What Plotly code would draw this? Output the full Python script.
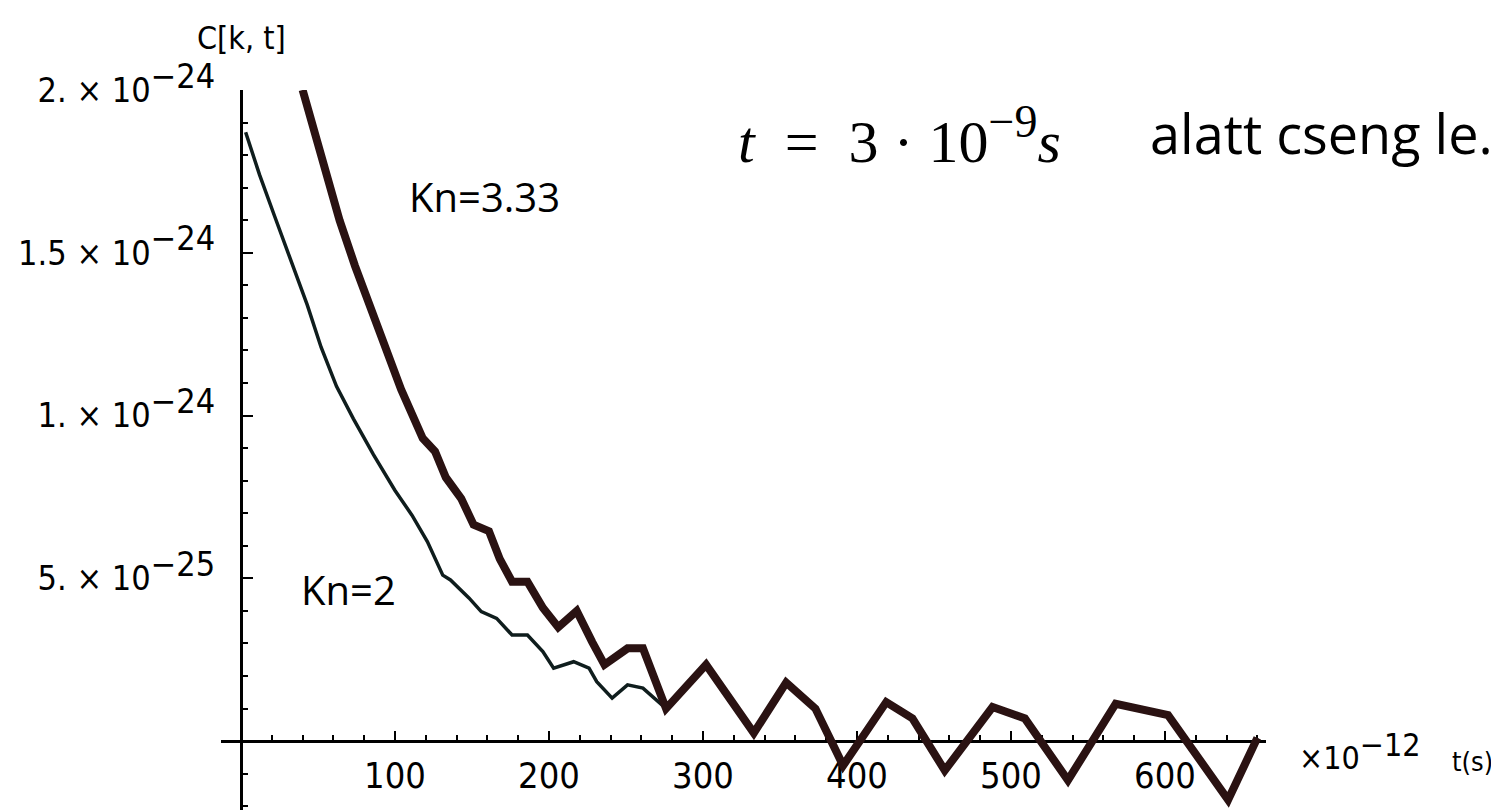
import plotly.graph_objects as go

# ---- data (C[k,t] in units of 1e-24, t in units of 1e-12 s) ----
t_kn333 = [40, 52, 64, 74, 84, 94, 104, 118, 126, 133, 143, 151, 161, 168, 176, 186,
           196, 206, 218, 228, 236, 251, 261, 276, 302, 333, 354, 373, 391, 419, 436,
           457, 488, 509, 537, 568, 602, 641, 660]
c_kn333 = [2.0, 1.79, 1.60, 1.46, 1.33, 1.20, 1.08, 0.93, 0.89, 0.81, 0.745, 0.665,
           0.645, 0.56, 0.49, 0.49, 0.41, 0.35, 0.40, 0.305, 0.235, 0.285, 0.285, 0.10,
           0.235, 0.025, 0.18, 0.10, -0.075, 0.12, 0.07, -0.09, 0.105, 0.07, -0.12,
           0.115, 0.08, -0.18, 0.01]

t_kn2 = [3, 12, 22, 32, 43, 52, 62, 73, 86, 100, 111, 121, 131, 136, 148, 156, 166,
         176, 186, 196, 203, 216, 226, 231, 241, 251, 261, 276, 302, 333, 354, 373,
         391, 419, 436, 457, 488, 509, 537, 568, 602, 641, 660]
c_kn2 = [1.87, 1.74, 1.61, 1.48, 1.34, 1.21, 1.09, 0.99, 0.88, 0.77, 0.694, 0.613,
         0.51, 0.495, 0.44, 0.398, 0.377, 0.326, 0.326, 0.275, 0.224, 0.244, 0.224,
         0.183, 0.132, 0.173, 0.163, 0.10, 0.235, 0.025, 0.18, 0.10, -0.075, 0.12,
         0.07, -0.09, 0.105, 0.07, -0.12, 0.115, 0.08, -0.18, 0.01]

x_tick_vals = [100, 200, 300, 400, 500, 600]
x_tick_text = ["100", "200", "300", "400", "500", "600"]
y_tick_vals = [0.5, 1.0, 1.5, 2.0]
y_tick_mant = ["5.", "1.", "1.5", "2."]
y_tick_exp = ["−25", "−24", "−24", "−24"]

X_RANGE = [-13, 665.6]
Y_RANGE = [-0.236, 2.0]

TICK_FONT = "Liberation Sans Narrow, DejaVu Sans Condensed, Arial Narrow, sans-serif"
LABEL_FONT = "Open Sans, Noto Sans, sans-serif"
SERIF = "Liberation Serif, DejaVu Serif, serif"
NB = "\u00a0"

y_tick_text = [f"{m} × 10<sup><span style='font-size:34px'>{e}</span></sup>"
               for m, e in zip(y_tick_mant, y_tick_exp)]

fig = go.Figure()
fig.add_trace(go.Scatter(x=t_kn2, y=c_kn2, mode="lines", name="Kn=2",
                         line=dict(color="#0f1d1d", width=3.5), showlegend=False))
fig.add_trace(go.Scatter(x=t_kn333, y=c_kn333, mode="lines", name="Kn=3.33",
                         line=dict(color="#2a1212", width=8), showlegend=False))

x_pos = (0 - Y_RANGE[0]) / (Y_RANGE[1] - Y_RANGE[0])
y_pos = (0 - X_RANGE[0]) / (X_RANGE[1] - X_RANGE[0])

fig.update_layout(
    width=1499, height=810, autosize=False,
    margin=dict(l=213, r=241, t=82, b=0, pad=0),
    paper_bgcolor="white", plot_bgcolor="white",
    showlegend=False,
    xaxis=dict(range=X_RANGE, anchor="free", position=x_pos, showline=True,
               linecolor="black", linewidth=3, ticks="inside", ticklen=9,
               tickwidth=2, tickcolor="black", tickvals=x_tick_vals,
               ticktext=x_tick_text, tickfont=dict(family=TICK_FONT, size=36, color="black"),
               ticklabelstandoff=2, showgrid=False, zeroline=False, layer="below traces",
               minor=dict(tick0=0, dtick=20, ticks="inside", ticklen=5, tickwidth=2,
                          tickcolor="black", showgrid=False)),
    yaxis=dict(range=Y_RANGE, anchor="free", position=y_pos, side="left", showline=True,
               linecolor="black", linewidth=3, ticks="inside", ticklen=10,
               tickwidth=2, tickcolor="black", tickvals=y_tick_vals,
               ticktext=y_tick_text, tickfont=dict(family=TICK_FONT, size=34, color="black"),
               ticklabelstandoff=18, showgrid=False, zeroline=False, layer="below traces",
               minor=dict(tick0=0, dtick=0.1, ticks="inside", ticklen=5, tickwidth=2,
                          tickcolor="black", showgrid=False)),
)

formula = (f"<i>t</i>{NB}{NB}={NB}{NB}3{NB}·{NB}10"
           f"<sup><span style='font-size:46px'>−9</span></sup><i>s</i>")

annotations = [
    dict(text="C[k, t]", x=0, xref="x", y=1.0714, yref="paper", showarrow=False,
         xanchor="center", yanchor="middle",
         font=dict(family=TICK_FONT, size=32, color="black")),
    dict(text="×10<sup><span style='font-size:32px'>−12</span></sup>", x=1.030, xref="paper",
         y=0.092, yref="paper", showarrow=False, xanchor="left", yanchor="middle",
         font=dict(family=TICK_FONT, size=32, color="black")),
    dict(text="t(s)", x=1.176, xref="paper", y=0.077, yref="paper", showarrow=False,
         xanchor="left", yanchor="middle",
         font=dict(family=TICK_FONT, size=27, color="black")),
    dict(text="Kn=3.33", x=158.4, xref="x", y=1.672, yref="y", showarrow=False,
         xanchor="center", yanchor="middle",
         font=dict(family=LABEL_FONT, size=40, color="black")),
    dict(text="Kn=2", x=69.5, xref="x", y=0.466, yref="y", showarrow=False,
         xanchor="center", yanchor="middle",
         font=dict(family=LABEL_FONT, size=40, color="black")),
    dict(text=formula, x=0.4928, xref="paper",
         y=0.937, yref="paper", showarrow=False, xanchor="left", yanchor="middle",
         font=dict(family=SERIF, size=60, color="black")),
    dict(text="alatt cseng le.", x=0.887, xref="paper", y=0.941, yref="paper",
         showarrow=False, xanchor="left", yanchor="middle",
         font=dict(family=LABEL_FONT, size=54, color="black")),
]
fig.update_layout(annotations=annotations)

fig.write_html("out.html")
